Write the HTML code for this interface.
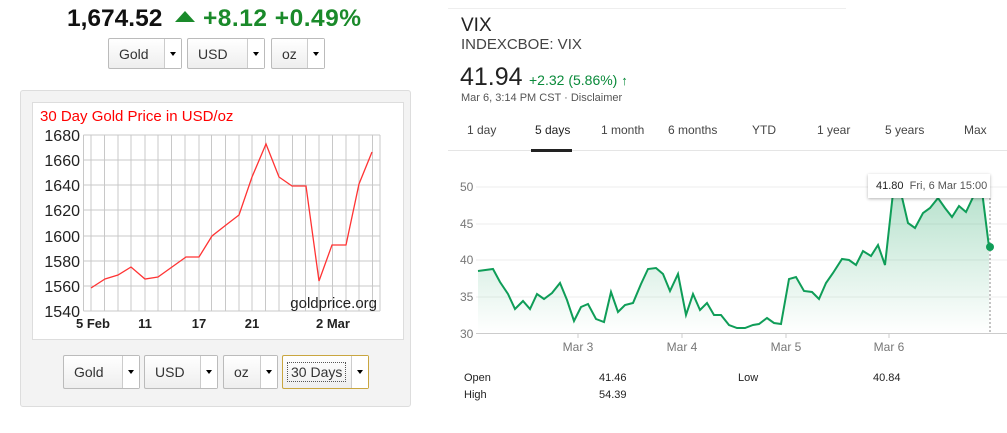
<!DOCTYPE html>
<html><head><meta charset="utf-8"><style>
body{margin:0;width:1007px;height:433px;background:#fff;font-family:"Liberation Sans",sans-serif;position:relative;overflow:hidden}
.a{position:absolute;white-space:nowrap}
.dd{position:absolute;border:1px solid #bbb;background:linear-gradient(#fff,#eee);font-size:14px;color:#333;box-sizing:border-box;border-radius:2px}
.dd span{position:absolute;left:10px;top:50%;transform:translateY(-50%)}
.dd i{position:absolute;right:0;top:0;bottom:0;width:16px;border-left:1px solid #ccc;background:#fff}
.dd i:after{content:"";position:absolute;left:5px;top:50%;margin-top:-2px;border:3px solid transparent;border-top:4px solid #000}
.g{color:#0a8a3a}
</style></head><body>
<div class="a" style="left:67px;top:5px;font-size:24.5px;font-weight:bold;color:#111">1,674.52</div>
<div class="a" style="left:175px;top:11px;width:0;height:0;border:10px solid transparent;border-bottom:11px solid #1a8a2a;border-top:0"></div>
<div class="a" style="left:203px;top:5px;font-size:24.5px;font-weight:bold;color:#1a8a2a;letter-spacing:0.5px">+8.12 +0.49%</div>
<div class="dd" style="left:108px;top:38px;width:74px;height:31px"><span>Gold</span><i></i></div>
<div class="dd" style="left:187px;top:38px;width:78px;height:31px"><span>USD</span><i></i></div>
<div class="dd" style="left:271px;top:38px;width:54px;height:31px"><span>oz</span><i></i></div>

<div class="a" style="left:20px;top:90px;width:391px;height:317px;background:#f3f3f3;border:1px solid #ddd;border-radius:3px;box-sizing:border-box"></div>
<div class="a" style="left:32px;top:102px;width:372px;height:238px;background:#fff;border:1px solid #ddd;box-sizing:border-box"></div>
<svg class="a" style="left:0;top:0" width="420" height="345">
<text x="40" y="121" fill="#f00" font-size="15" font-family="Liberation Sans">30 Day Gold Price in USD/oz</text>
<g stroke="#c8c8c8" stroke-width="1">
<path d="M83.5 135H380M83.5 160H380M83.5 185H380M83.5 210H380M83.5 236H380M83.5 261H380M83.5 286H380M83.5 311H380"/>
<path d="M83.5 135V311M91 135V311M104.5 135V311M118 135V311M131 135V311M145 135V311M158 135V311M171.5 135V311M185 135V311M199 135V311M211.5 135V311M225.5 135V311M239 135V311M252 135V311M265.5 135V311M279 135V311M292.5 135V311M305.5 135V311M319 135V311M332.5 135V311M346 135V311M359 135V311M372.5 135V311M380 135V311"/>
</g>
<g font-size="16" fill="#222" text-anchor="end" font-family="Liberation Sans">
<text x="80" y="141">1680</text><text x="80" y="166">1660</text><text x="80" y="191">1640</text><text x="80" y="216">1620</text><text x="80" y="242">1600</text><text x="80" y="267">1580</text><text x="80" y="292">1560</text><text x="80" y="317">1540</text>
</g>
<g font-size="13" font-weight="bold" fill="#222" text-anchor="middle" font-family="Liberation Sans">
<text x="93" y="328">5 Feb</text><text x="145" y="328">11</text><text x="199" y="328">17</text><text x="252" y="328">21</text><text x="333" y="328">2 Mar</text>
</g>
<text x="377" y="308" text-anchor="end" font-size="15" fill="#222" font-family="Liberation Sans">goldprice.org</text>
<polyline fill="none" stroke="#f33" stroke-width="1.3" points="91,288 105,279 118,275 131,267 145,279 158,277 172,267 186,257 199,257 212,236 226,225 239,215 252,177 266,144 279,177 292,186 306,186 319,281 332,245 346,245 359,184 372,152"/>
</svg>
<div class="dd" style="left:63px;top:355px;width:77px;height:34px"><span>Gold</span><i></i></div>
<div class="dd" style="left:144px;top:355px;width:74px;height:34px"><span>USD</span><i></i></div>
<div class="dd" style="left:223px;top:355px;width:55px;height:34px"><span>oz</span><i></i></div>
<div class="dd" style="left:282px;top:355px;width:87px;height:34px;border:1px solid #c9a640"><span style="left:4px;border:1px dotted #555;padding:1px 3px">30 Days</span><i></i></div>

<div class="a" style="left:448px;top:8px;width:398px;height:1px;background:#eee"></div>
<div class="a" style="left:461px;top:15px;font-size:19px;color:#222">VIX</div>
<div class="a" style="left:461px;top:36px;font-size:15px;color:#444">INDEXCBOE: VIX</div>
<div class="a" style="left:460px;top:63px;font-size:25px;color:#222">41.94</div>
<div class="a g" style="left:529px;top:72px;font-size:14px">+2.32 (5.86%) <b style="font-size:13px">&#x2191;</b></div>
<div class="a" style="left:461px;top:92px;font-size:11px;color:#555">Mar 6, 3:14 PM CST · Disclaimer</div>
<div class="a" style="top:123px;left:0;width:1007px;font-size:12px;color:#444">
<span class="a" style="left:467px">1 day</span><span class="a" style="left:535px;color:#222">5 days</span><span class="a" style="left:601px">1 month</span><span class="a" style="left:668px">6 months</span><span class="a" style="left:752px">YTD</span><span class="a" style="left:817px">1 year</span><span class="a" style="left:885px">5 years</span><span class="a" style="left:964px">Max</span></div>
<div class="a" style="left:448px;top:150px;width:559px;height:1px;background:#e5e5e5"></div>
<div class="a" style="left:531px;top:149px;width:41px;height:3px;background:#222"></div>

<svg class="a" style="left:440px;top:160px" width="567" height="200">
<defs><linearGradient id="gr" x1="0" y1="0" x2="0" y2="1"><stop offset="0" stop-color="#0f9d58" stop-opacity="0.3"/><stop offset="1" stop-color="#0f9d58" stop-opacity="0"/></linearGradient></defs>
<g stroke="#eee"><path d="M36 27H567M36 64H567M36 100H567M36 137H567"/></g>
<path d="M36 173.5H567" stroke="#ccc"/>
<g stroke="#ccc"><path d="M138 173V178M242 173V178M346 173V178M449 173V178"/></g>
<g font-size="12" fill="#777" font-family="Liberation Sans"><text x="20" y="31">50</text><text x="20" y="68">45</text><text x="20" y="104">40</text><text x="20" y="141">35</text><text x="20" y="178">30</text>
<text x="138" y="191" text-anchor="middle">Mar 3</text><text x="242" y="191" text-anchor="middle">Mar 4</text><text x="346" y="191" text-anchor="middle">Mar 5</text><text x="449" y="191" text-anchor="middle">Mar 6</text></g>
<path fill="url(#gr)" d="M38 111 L53 109 60 122 68 134 75 149 83 141 90 149 97 134 104 139 112 133 120 123 127 140 134 161 141 147 148 144 156 159 164 162 171 132 178 152 185 145 193 143 201 124 208 109 216 108 223 114 230 131 238 114 246 155 253 134 260 150 267 143 274 155 281 155 289 165 297 168 305 168 313 165 319 164 327 158 334 163 341 164 349 119 356 117 364 131 372 132 379 139 386 123 393 113 402 99 409 100 416 105 423 91 431 96 438 85 445 105 453 33 461 33 468 63 475 68 483 53 490 48 498 38 505 48 512 57 519 46 526 52 535 33 542 31 549 87 L549 173 L38 173 Z"/>
<polyline fill="none" stroke="#0f9d58" stroke-width="2" points="38,111 53,109 60,122 68,134 75,149 83,141 90,149 97,134 104,139 112,133 120,123 127,140 134,161 141,147 148,144 156,159 164,162 171,132 178,152 185,145 193,143 201,124 208,109 216,108 223,114 230,131 238,114 246,155 253,134 260,150 267,143 274,155 281,155 289,165 297,168 305,168 313,165 319,164 327,158 334,163 341,164 349,119 356,117 364,131 372,132 379,139 386,123 393,113 402,99 409,100 416,105 423,91 431,96 438,85 445,105 453,33 461,33 468,63 475,68 483,53 490,48 498,38 505,48 512,57 519,46 526,52 535,33 542,31 549,87"/>
<path d="M550 38V173" stroke="#888" stroke-dasharray="2,2"/>
<circle cx="550" cy="87" r="4" fill="#0f9d58"/>
</svg>
<div class="a" style="left:868px;top:174px;width:122px;height:24px;background:#fff;box-shadow:0 1px 3px rgba(0,0,0,.3);font-size:11px;color:#222;line-height:24px;padding-left:8px;box-sizing:border-box">41.80 <span style="color:#555">&nbsp;Fri, 6 Mar 15:00</span></div>

<div class="a" style="left:464px;top:372px;font-size:11px;color:#222">Open</div>
<div class="a" style="left:599px;top:372px;font-size:11px;color:#222">41.46</div>
<div class="a" style="left:738px;top:372px;font-size:11px;color:#222">Low</div>
<div class="a" style="left:873px;top:372px;font-size:11px;color:#222">40.84</div>
<div class="a" style="left:464px;top:389px;font-size:11px;color:#222">High</div>
<div class="a" style="left:599px;top:389px;font-size:11px;color:#222">54.39</div>
</body></html>
